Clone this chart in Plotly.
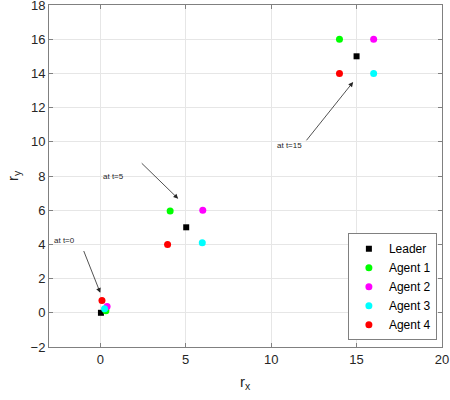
import plotly.graph_objects as go

# Data
leader_x = [0.04, 5.03, 15.0]
leader_y = [0.0, 5.0, 15.0]
agent1_x = [0.33, 4.09, 14.0]
agent1_y = [0.12, 5.95, 16.0]
agent2_x = [0.4, 6.0, 16.0]
agent2_y = [0.37, 6.0, 16.0]
agent3_x = [0.25, 5.97, 16.0]
agent3_y = [0.23, 4.1, 14.0]
agent4_x = [0.1, 3.94, 14.0]
agent4_y = [0.72, 4.0, 14.0]

labels = ["at t=0", "at t=5", "at t=15"]
label_x = [-2.1, 0.76, 11.1]
label_y = [4.2, 8.0, 9.8]
arrow_tail_x = [-1.0, 2.34, 12.0]
arrow_tail_y = [3.7, 8.83, 10.0]
arrow_head_x = [0.0, 4.56, 14.8]
arrow_head_y = [1.17, 6.67, 13.5]

x_ticks = [0, 5, 10, 15, 20]
y_ticks = list(range(-2, 19, 2))

series = [
    ("Leader", leader_x, leader_y, "#000000", "square", 6),
    ("Agent 1", agent1_x, agent1_y, "#00ff00", "circle", 7),
    ("Agent 2", agent2_x, agent2_y, "#ff00ff", "circle", 7),
    ("Agent 3", agent3_x, agent3_y, "#00ffff", "circle", 7),
    ("Agent 4", agent4_x, agent4_y, "#ff0000", "circle", 7),
]

FONT = "Liberation Sans, Arial"
fig = go.Figure()
for name, xs, ys, col, sym, sz in series:
    fig.add_trace(go.Scatter(
        x=xs, y=ys, mode="markers", name=name,
        marker=dict(color=col, symbol=sym, size=sz, line=dict(width=0)),
    ))

for t, tx, ty, ax_, ay_, hx, hy in zip(labels, label_x, label_y,
                                        arrow_tail_x, arrow_tail_y,
                                        arrow_head_x, arrow_head_y):
    fig.add_annotation(x=hx, y=hy, ax=ax_, ay=ay_, xref="x", yref="y",
                       axref="x", ayref="y", showarrow=True, text="",
                       arrowhead=2, arrowsize=1.2, arrowwidth=0.8,
                       arrowcolor="#262626")
    fig.add_annotation(x=tx, y=ty, xref="x", yref="y", text=t,
                       showarrow=False,
                       font=dict(size=8, color="#262626", family=FONT))

# axis titles
fig.add_annotation(x=0.5, y=0, xref="paper", yref="paper", yshift=-24,
                   xanchor="center", yanchor="top",
                   text="r<sub>x</sub>", showarrow=False,
                   font=dict(size=15, color="#262626", family=FONT))
fig.add_annotation(x=0, y=0.5, xref="paper", yref="paper", xshift=-36,
                   xanchor="center", yanchor="middle",
                   text="r<sub>y</sub>", showarrow=False, textangle=-90,
                   font=dict(size=15, color="#262626", family=FONT))

axis_common = dict(
    showgrid=True, gridcolor="#e6e6e6", gridwidth=1,
    showline=True, linecolor="#808080", linewidth=1, mirror="ticks",
    ticks="inside", ticklen=4, tickcolor="#808080",
    zeroline=False, automargin=False, ticklabeloverflow="allow",
    tickfont=dict(size=13, color="#262626", family=FONT),
)

fig.update_xaxes(range=[-3, 20], tickvals=x_ticks, **axis_common)
fig.update_yaxes(range=[-2, 18], tickvals=y_ticks, **axis_common)

fig.update_layout(
    width=450, height=400,
    margin=dict(l=49, r=8, t=5, b=53),
    plot_bgcolor="white", paper_bgcolor="white",
    font=dict(family=FONT, color="#262626"),
    legend=dict(x=0.987, y=0.02, xanchor="right", yanchor="bottom",
                bordercolor="#808080", borderwidth=1, bgcolor="white",
                font=dict(size=12, color="#000000", family=FONT),
                itemwidth=30, tracegroupgap=0),
    showlegend=True,
)

fig.write_html("out.html", config={"displayModeBar": False},
               post_script="document.body.style.margin='0';document.body.style.padding='0';")
